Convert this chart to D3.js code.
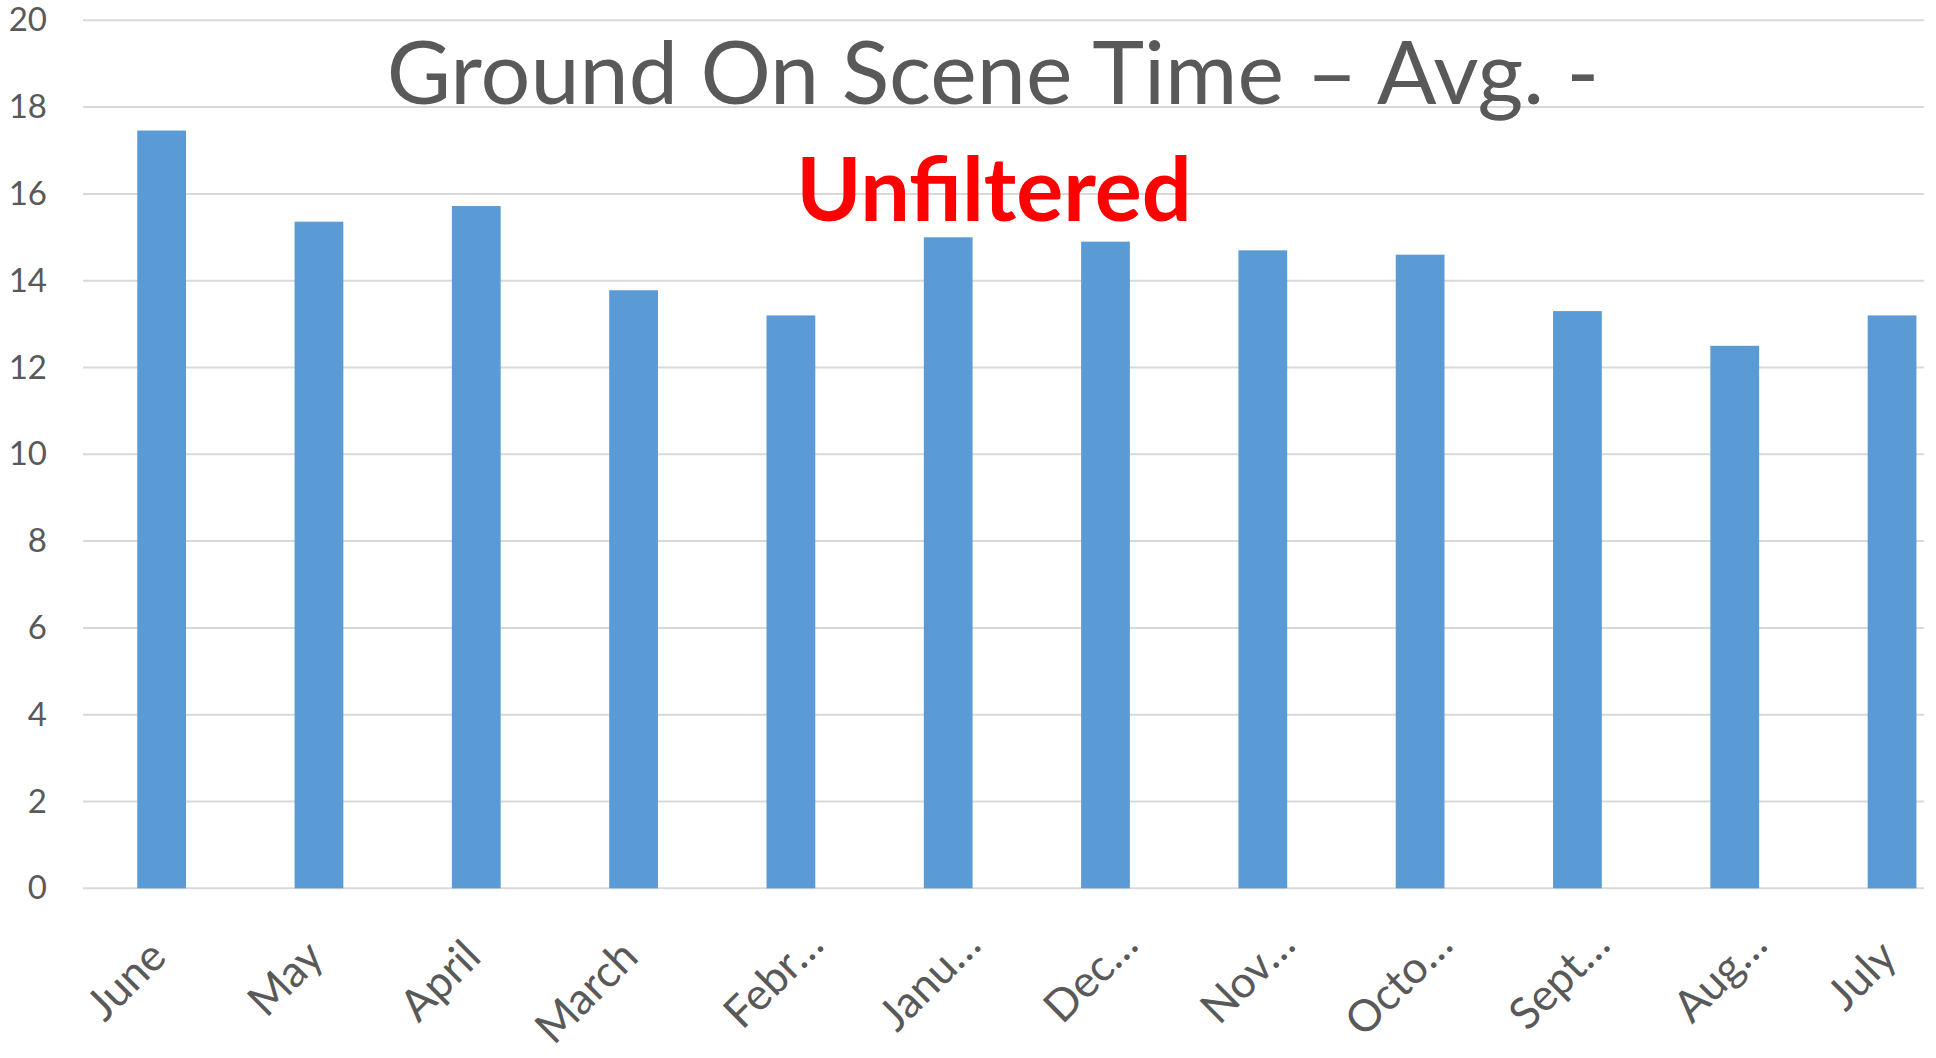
<!DOCTYPE html>
<html>
<head>
<meta charset="utf-8">
<script src="https://cdn.jsdelivr.net/npm/d3@7"></script>
<style>
    body { margin: 0; background: #fff; }
</style>
</head>
<body>
<svg id="chart"></svg>
<script>
const months = ["June", "May", "April", "March", "Febr…", "Janu…", "Dec…", "Nov…", "Octo…", "Sept…", "Aug…", "July"];
const avgTimes = [17.46, 15.36, 15.72, 13.78, 13.2, 15.0, 14.9, 14.7, 14.6, 13.3, 12.5, 13.2];
const yTicks = [0, 2, 4, 6, 8, 10, 12, 14, 16, 18, 20];
const titleText = "Ground On Scene Time – Avg. -";
const subtitleText = "Unfiltered";

const data = months.map((m, i) => ({ month: m, value: avgTimes[i] }));

const width = 1936, height = 1058;
const plotLeft = 83, plotRight = 1924, yTop = 20.3, yBottom = 888.3;

const svg = d3.select("#chart")
    .attr("width", width)
    .attr("height", height)
    .style("font-family", "Lato, sans-serif");

// bands run past the right edge, like the cropped excel chart
const xScale = d3.scaleBand()
    .domain(months)
    .range([plotLeft, 1970.7])
    .paddingInner(0.69)
    .paddingOuter(0.345);

const yScale = d3.scaleLinear()
    .domain([0, 20])
    .range([yBottom, yTop]);

// gridlines
svg.append("g")
    .selectAll("line")
    .data(yTicks)
    .enter().append("line")
    .attr("x1", plotLeft)
    .attr("x2", plotRight)
    .attr("y1", d => yScale(d))
    .attr("y2", d => yScale(d))
    .attr("stroke", "#d9d9d9")
    .attr("stroke-width", 2);

// y axis labels
const yAxis = svg.append("g")
    .attr("transform", "translate(47,0)")
    .call(d3.axisLeft(yScale).tickValues(yTicks).tickSize(0).tickPadding(0));
yAxis.select(".domain").remove();
yAxis.selectAll("text")
    .style("font-size", "33px")
    .style("font-family", "Lato, sans-serif")
    .attr("fill", "#595959");

svg.selectAll(".bar")
    .data(data)
    .enter().append("rect")
    .attr("class", "bar")
    .attr("x", d => xScale(d.month))
    .attr("y", d => yScale(d.value))
    .attr("width", xScale.bandwidth())
    .attr("height", d => yBottom - yScale(d.value))
    .attr("fill", "#5b9bd5");

// x labels, rotated like excel does it (cut labels sit a bit further right)
svg.append("g")
    .selectAll("text")
    .data(months)
    .enter().append("text")
    .attr("transform", d => {
        const cut = d.endsWith("…");
        const x = xScale(d) + xScale.bandwidth() / 2 + (cut ? 24 : -4);
        const y = yBottom + (cut ? 48 : 60);
        return `translate(${x},${y}) rotate(-45)`;
    })
    .attr("text-anchor", "end")
    .attr("dy", "0.35em")
    .style("font-size", "44px")
    .attr("fill", "#595959")
    .text(d => d);

svg.append("text")
    .attr("x", 993)
    .attr("y", 104)
    .attr("text-anchor", "middle")
    .style("font-size", "88px")
    .attr("fill", "#595959")
    .text(titleText);

svg.append("text")
    .attr("x", 994)
    .attr("y", 221)
    .attr("text-anchor", "middle")
    .style("font-size", "88px")
    .style("font-weight", "bold")
    .attr("fill", "#ff0000")
    .text(subtitleText);
</script>
</body>
</html>
